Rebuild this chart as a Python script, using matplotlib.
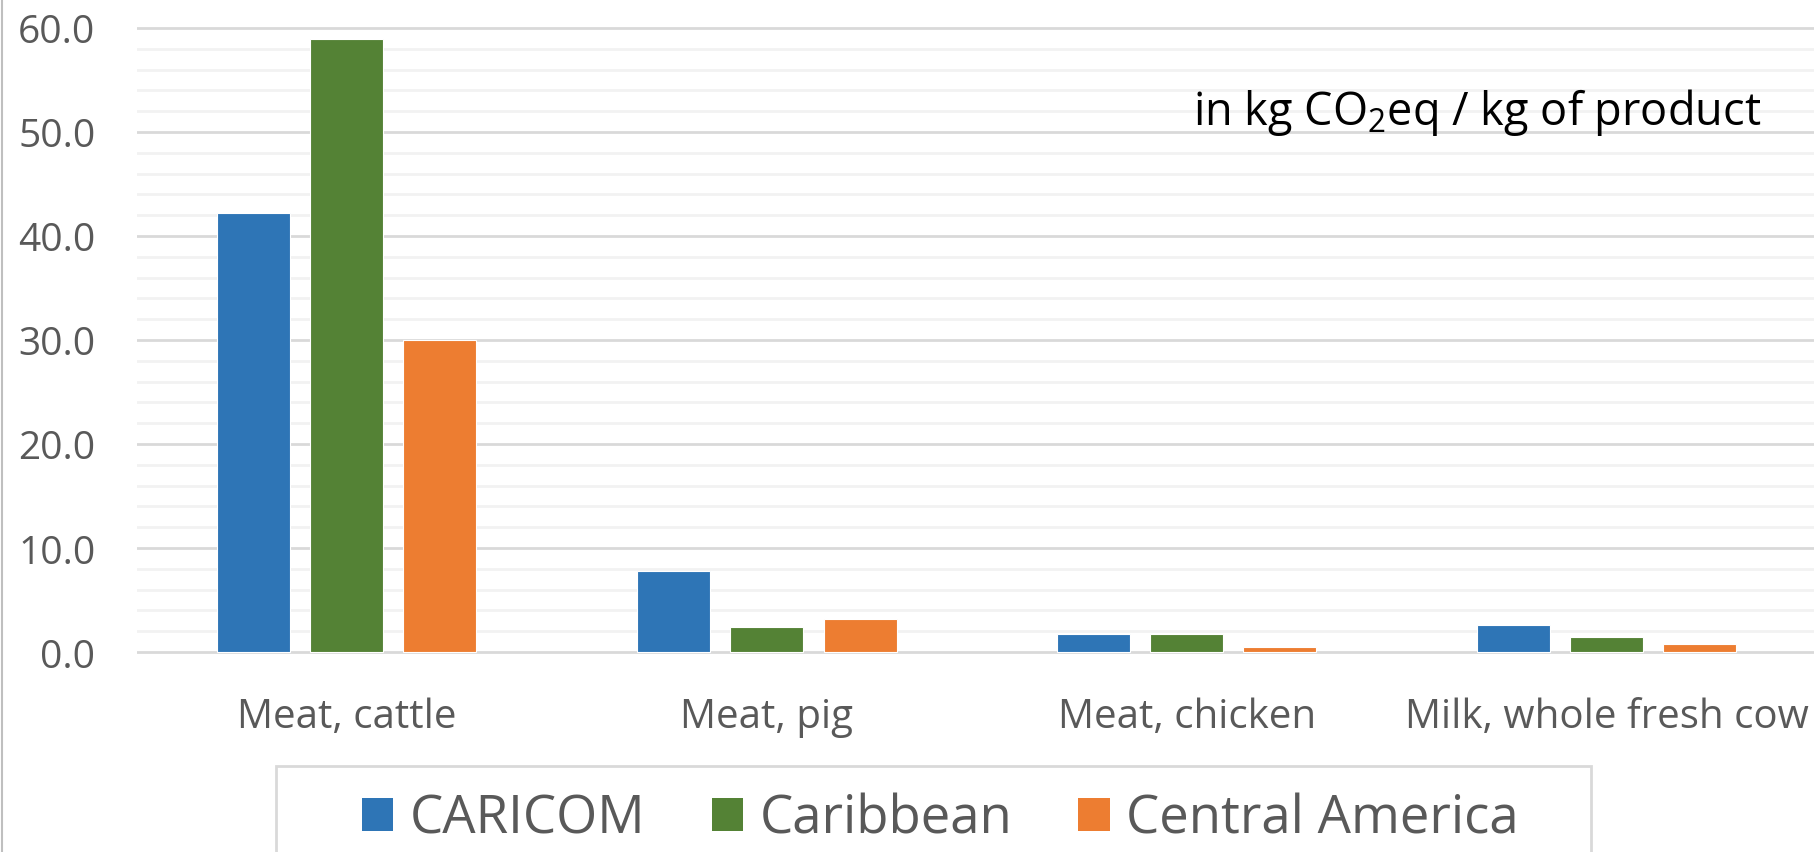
import matplotlib
matplotlib.use("Agg")
import matplotlib.pyplot as plt
from matplotlib.lines import Line2D
from matplotlib.patches import Patch, Rectangle
import numpy as np

CATEGORIES = ["Meat, cattle", "Meat, pig", "Meat, chicken", "Milk, whole fresh cow"]
SERIES = ["CARICOM", "Caribbean", "Central America"]
CARICOM = [42.2, 7.8, 1.7, 2.6]
CARIBBEAN = [58.9, 2.4, 1.7, 1.4]
CENTRAL_AMERICA = [30.0, 3.2, 0.5, 0.8]
COLORS = ["#2E75B6", "#548235", "#ED7D31"]

W, H = 1815, 853
DPI = 100

plt.rcParams["font.family"] = ["Open Sans", "DejaVu Sans"]
plt.rcParams["mathtext.default"] = "regular"

fig = plt.figure(figsize=(W / DPI, H / DPI), dpi=DPI)
fig.patch.set_facecolor("white")

# axes geometry in pixels: y=0 at 653px, y=60 at 29px; categories 420px apart
ppu = (653 - 29) / 60.0
y_lo, y_hi = -0.5, 60.5
top_px = 29 - (y_hi - 60) * ppu
bot_px = 653 + (0 - y_lo) * ppu
left_px, right_px = 137, 1817
ax = fig.add_axes([left_px / W, 1 - bot_px / H, (right_px - left_px) / W, (bot_px - top_px) / H])

x = np.arange(len(CATEGORIES))
bw = 73 / 420
off = 93 / 420
for i, (vals, col, name) in enumerate(zip([CARICOM, CARIBBEAN, CENTRAL_AMERICA], COLORS, SERIES)):
    ax.bar(x + (i - 1) * off, vals, width=bw, color=col, edgecolor="white", linewidth=0.8,
           label=name, zorder=3)

ax.set_xlim(-0.5, len(CATEGORIES) - 0.5)
ax.set_ylim(y_lo, y_hi)
ax.set_yticks(np.arange(0, 61, 10))
ax.set_yticks(np.arange(0, 61, 2), minor=True)
ax.set_yticklabels([f"{v:.1f}" for v in np.arange(0, 61, 10)])
ax.grid(axis="y", which="major", color="#d9d9d9", linewidth=2, zorder=1)
ax.grid(axis="y", which="minor", color="#f2f2f2", linewidth=2, zorder=0)
ax.set_xticks(x)
ax.set_xticklabels(CATEGORIES)
ax.tick_params(axis="y", which="both", length=0, pad=30, labelsize=28, labelcolor="#595959")
ax.tick_params(axis="x", length=0, pad=28, labelsize=29, labelcolor="#595959")
for s in ax.spines.values():
    s.set_visible(False)

fig.text(1761 / W, 1 - 112 / H, r"in kg CO$_{2}$eq / kg of product",
         ha="right", va="center", fontsize=32.5, color="black")

# chart area border on the left
fig.add_artist(Line2D([2 / W, 2 / W], [0, 1], transform=fig.transFigure, color="#bfbfbf", linewidth=1.5))

# legend box, cut off by the bottom edge
fig.add_artist(Rectangle((276 / W, -0.05), (1591 - 276) / W, (1 - 767 / H) + 0.05,
                         transform=fig.transFigure, facecolor="white", edgecolor="#d9d9d9", linewidth=2))
handles = [Patch(facecolor=c, edgecolor="none") for c in COLORS]
leg = fig.legend(handles, SERIES, loc="center left", bbox_to_anchor=(362 / W, 1 - 820 / H),
                 ncol=3, fontsize=38, frameon=False, handlelength=0.59,
                 handleheight=0.59, handletextpad=0.32, columnspacing=1.25, borderpad=0,
                 borderaxespad=0)
for t in leg.get_texts():
    t.set_color("#595959")

fig.savefig("out.png", dpi=DPI)
